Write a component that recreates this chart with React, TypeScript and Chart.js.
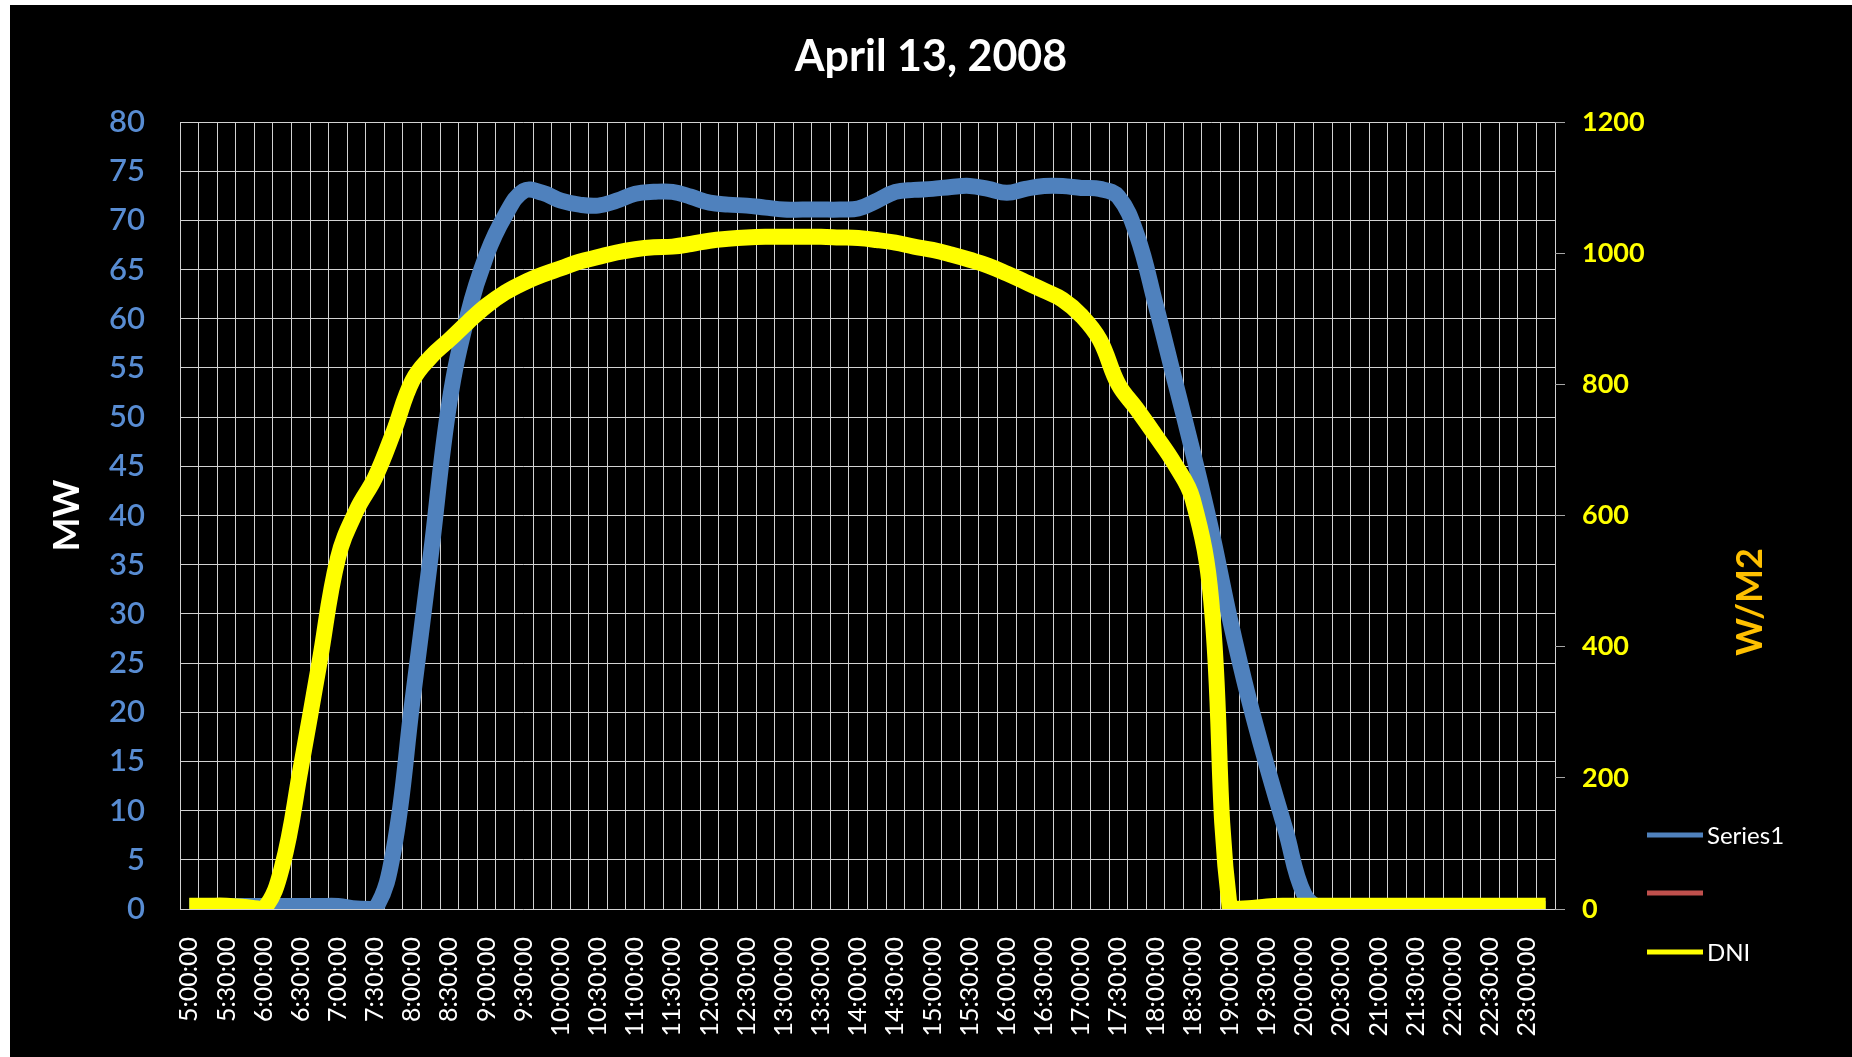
import React, { useEffect, useRef } from "react";
import { Chart, registerables } from "chart.js";

Chart.register(...registerables);

const TITLE = "April 13, 2008";
const LEFT_TITLE = "MW";
const RIGHT_TITLE = "W/M2";

const times = [
  "5:00:00", "5:15:00", "5:30:00", "5:45:00",
  "6:00:00", "6:15:00", "6:30:00", "6:45:00",
  "7:00:00", "7:15:00", "7:30:00", "7:45:00",
  "8:00:00", "8:15:00", "8:30:00", "8:45:00",
  "9:00:00", "9:15:00", "9:30:00", "9:45:00",
  "10:00:00", "10:15:00", "10:30:00", "10:45:00",
  "11:00:00", "11:15:00", "11:30:00", "11:45:00",
  "12:00:00", "12:15:00", "12:30:00", "12:45:00",
  "13:00:00", "13:15:00", "13:30:00", "13:45:00",
  "14:00:00", "14:15:00", "14:30:00", "14:45:00",
  "15:00:00", "15:15:00", "15:30:00", "15:45:00",
  "16:00:00", "16:15:00", "16:30:00", "16:45:00",
  "17:00:00", "17:15:00", "17:30:00", "17:45:00",
  "18:00:00", "18:15:00", "18:30:00", "18:45:00",
  "19:00:00", "19:15:00", "19:30:00", "19:45:00",
  "20:00:00", "20:15:00", "20:30:00", "20:45:00",
  "21:00:00", "21:15:00", "21:30:00", "21:45:00",
  "22:00:00", "22:15:00", "22:30:00", "22:45:00",
  "23:00:00", "23:15:00",
];

const series1MW = [
  0.3, 0.3, 0.3, 0.3, 0.3, 0.3, 0.3, 0.3, 0.3, 0.05, 0,
  6, 21, 36, 51.5, 60.5, 66.5, 70.5, 73, 72.8,
  72, 71.6, 71.5, 72, 72.7, 72.9, 72.9, 72.4, 71.8, 71.6,
  71.5, 71.3, 71.1, 71.1, 71.1, 71.1, 71.2, 72, 72.9, 73.1,
  73.2, 73.4, 73.5, 73.2, 72.8, 73.2, 73.5, 73.5, 73.3, 73.2,
  72.4, 68.5, 61.5, 54, 46.5, 38.5, 29.5, 21.5, 14.5, 8,
  1.5, 0, 0, 0, 0, 0, 0, 0, 0, 0, 0, 0, 0, 0,
];

const unnamedSeries: number[] = [];

const dniWm2 = [
  5, 5, 5, 3, 0, 65, 215, 375, 535, 608,
  658, 728, 805, 842, 868, 895, 920, 940, 955, 967,
  977, 987, 994, 1001, 1006, 1009, 1010, 1014, 1019, 1022,
  1024, 1025, 1025, 1025, 1025, 1024, 1023, 1020, 1016, 1010,
  1005, 998, 990, 981, 969, 956, 943, 929, 905, 868,
  800, 762, 722, 680, 625, 470, 0, 1, 4, 5,
  5, 5, 5, 5, 5, 5, 5, 5, 5, 5, 5, 5, 5, 5,
];

const mwTicks = { min: 0, max: 80, step: 5 };
const dniTicks = { min: 0, max: 1200, step: 200 };

const FONT = "Lato, 'Open Sans', sans-serif";
const GRID = "#d2d2d2";

const decorPlugin = {
  id: "decor",
  afterDraw(chart: any) {
    const ctx = chart.ctx as CanvasRenderingContext2D;
    const area = chart.chartArea;
    ctx.save();
    // title
    ctx.fillStyle = "#ffffff";
    ctx.font = `bold 43px ${FONT}`;
    ctx.textAlign = "center";
    ctx.textBaseline = "alphabetic";
    ctx.fillText(TITLE, chart.width / 2, 66);

    // left axis title
    ctx.save();
    ctx.translate(57, (area.top + area.bottom) / 2);
    ctx.rotate(-Math.PI / 2);
    ctx.font = `bold 36px ${FONT}`;
    ctx.fillStyle = "#ffffff";
    ctx.textAlign = "center";
    ctx.textBaseline = "middle";
    ctx.fillText(LEFT_TITLE, 0, 0);
    ctx.restore();

    // right axis title
    ctx.save();
    ctx.translate(area.right + 195, 597);
    ctx.rotate(-Math.PI / 2);
    ctx.font = `bold 36px ${FONT}`;
    ctx.fillStyle = "#FFC000";
    ctx.textAlign = "center";
    ctx.textBaseline = "middle";
    ctx.fillText(RIGHT_TITLE, 0, 0);
    ctx.restore();

    // legend
    const x0 = area.right + 92;
    const lineLen = 56;
    const ys = [830, 888, 947];
    chart.data.datasets.forEach((ds: any, i: number) => {
      const y = ys[i];
      ctx.strokeStyle = ds.borderColor;
      ctx.lineWidth = 5;
      ctx.lineCap = "butt";
      ctx.beginPath();
      ctx.moveTo(x0, y);
      ctx.lineTo(x0 + lineLen, y);
      ctx.stroke();
      ctx.fillStyle = "#ffffff";
      ctx.font = `24px ${FONT}`;
      ctx.textAlign = "left";
      ctx.textBaseline = "middle";
      ctx.fillText(ds.label, x0 + lineLen + 4, y + 1);
    });
    ctx.restore();
  },
};

export default function App() {
  const canvasRef = useRef<HTMLCanvasElement | null>(null);

  useEffect(() => {
    const canvas = canvasRef.current;
    if (!canvas) return;
    const chart = new Chart(canvas, {
      type: "line",
      data: {
        labels: times,
        datasets: [
          {
            label: "Series1",
            data: series1MW,
            borderColor: "#4F81BD",
            backgroundColor: "#4F81BD",
            borderWidth: 16,
            pointRadius: 0,
            tension: 0.4,
            yAxisID: "y",
            order: 1,
          },
          {
            label: "",
            data: unnamedSeries,
            borderColor: "#C0504D",
            backgroundColor: "#C0504D",
            borderWidth: 16,
            pointRadius: 0,
            tension: 0.4,
            yAxisID: "y",
            order: 2,
          },
          {
            label: "DNI",
            data: dniWm2,
            borderColor: "#FFFF00",
            backgroundColor: "#FFFF00",
            borderWidth: 16,
            pointRadius: 0,
            tension: 0.4,
            yAxisID: "y2",
            order: 0,
          },
        ],
      },
      options: {
        responsive: false,
        animation: false,
        devicePixelRatio: 1,
        layout: { padding: { top: 117, left: 0, right: 0, bottom: 0 } },
        plugins: {
          legend: { display: false },
          title: { display: false },
          tooltip: { enabled: false },
        },
        scales: {
          x: {
            type: "category",
            offset: true,
            afterFit(scale: any) {
              scale.height = 148;
            },
            grid: { offset: true, color: GRID, lineWidth: 1, drawTicks: false },
            border: { display: false },
            ticks: {
              autoSkip: false,
              maxRotation: 90,
              minRotation: 90,
              padding: 28,
              color: "#ffffff",
              font: { family: FONT, size: 25 },
              callback(this: any, value: any, index: number) {
                return index % 2 === 0 ? this.getLabelForValue(value) : "";
              },
            },
          },
          y: {
            position: "left",
            min: mwTicks.min,
            max: mwTicks.max,
            afterFit(scale: any) {
              scale.width = 170;
            },
            grid: { color: GRID, lineWidth: 1, drawTicks: false },
            border: { display: false },
            ticks: {
              stepSize: mwTicks.step,
              padding: 35,
              color: "#588CD2",
              font: { family: FONT, size: 31, weight: "600" },
              callback: (v: any) => String(v),
            },
          },
          y2: {
            position: "right",
            min: dniTicks.min,
            max: dniTicks.max,
            afterFit(scale: any) {
              scale.width = 297;
            },
            grid: {
              drawOnChartArea: false,
              drawTicks: true,
              tickLength: 10,
              color: "#a6a6a6",
            },
            border: { display: false },
            ticks: {
              stepSize: dniTicks.step,
              padding: 17,
              color: "#FFFF00",
              font: { family: FONT, size: 27, weight: "bold" },
              callback: (v: any) => String(v),
            },
          },
        },
      },
      plugins: [decorPlugin],
    } as any);
    return () => chart.destroy();
  }, []);

  return (
    <div
      style={{
        position: "absolute",
        left: 10,
        top: 5,
        width: 1842,
        height: 1052,
        background: "#000000",
      }}
    >
      <canvas ref={canvasRef} width={1842} height={1052} style={{ display: "block" }} />
    </div>
  );
}
